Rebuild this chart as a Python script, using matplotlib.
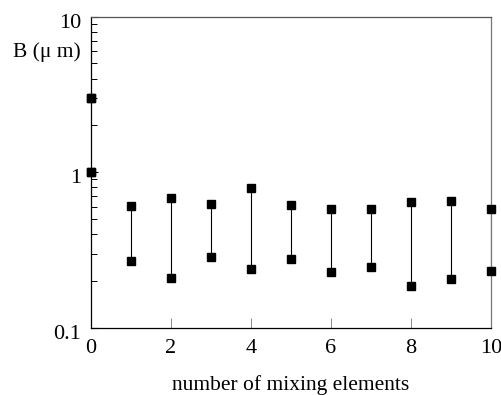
import numpy as np
import matplotlib
matplotlib.use('Agg')
import matplotlib.pyplot as plt
import matplotlib.transforms as mtransforms
from matplotlib.ticker import LogLocator, NullFormatter, FixedLocator

# Data
elements = [0, 0, 1, 2, 3, 4, 5, 6, 7, 8, 9, 10]
b_upper = [3.0, 1.0, 0.608, 0.687, 0.629, 0.797, 0.617, 0.584, 0.584, 0.642, 0.655, 0.584]
b_lower = [3.0, 1.0, 0.267, 0.209, 0.287, 0.238, 0.278, 0.227, 0.247, 0.187, 0.205, 0.232]

x_ticks = [0, 2, 4, 6, 8, 10]
y_ticks = [0.1, 1, 10]
y_tick_labels = ['0.1', '1', '10']

plt.rcParams['font.family'] = ['Liberation Serif', 'DejaVu Serif']

fig = plt.figure(figsize=(5.02, 3.95), dpi=100)
ax = fig.add_axes([0.181, 0.170, 0.797, 0.788])

# vertical range lines
ax.vlines(elements, b_lower, b_upper, color='black', linewidth=0.8)
ax.plot(elements, b_upper, 's', color='black', markersize=6, clip_on=False, zorder=5)
ax.plot(elements, b_lower, 's', color='black', markersize=6, clip_on=False, zorder=5)

ax.set_yscale('log')
ax.set_xlim(0, 10)
ax.set_ylim(0.1, 10)

ax.set_yticks(y_ticks)
ax.set_yticklabels(y_tick_labels)
ax.yaxis.set_minor_locator(LogLocator(base=10, subs=np.arange(2, 10)))
ax.yaxis.set_minor_formatter(NullFormatter())
ax.set_xticks(x_ticks)
ax.xaxis.set_minor_locator(FixedLocator([]))

ax.tick_params(axis='y', which='major', direction='in', length=5, width=0.8,
               labelsize=16, pad=7, right=False)
ax.tick_params(axis='y', which='minor', direction='in', length=4, width=0.7, right=False)
ax.tick_params(axis='x', which='major', direction='in', length=7, width=0.7,
               color='#888888', labelsize=16, pad=8, top=False)

# y labels sit a little below their ticks in the original
shift = mtransforms.ScaledTranslation(0, -4 / 100, fig.dpi_scale_trans)
for lab in ax.get_yticklabels():
    lab.set_transform(lab.get_transform() + shift)

for s in ax.spines.values():
    s.set_linewidth(0.9)
ax.spines['top'].set_color('#555555')
ax.spines['right'].set_color('#777777')

ax.set_xlabel('number of mixing elements', fontsize=15.5, labelpad=12)
fig.text(0.094, 0.868, 'B (\u03bc m)', fontsize=15.5, ha='center', va='center')

fig.savefig('out.png', dpi=100)
